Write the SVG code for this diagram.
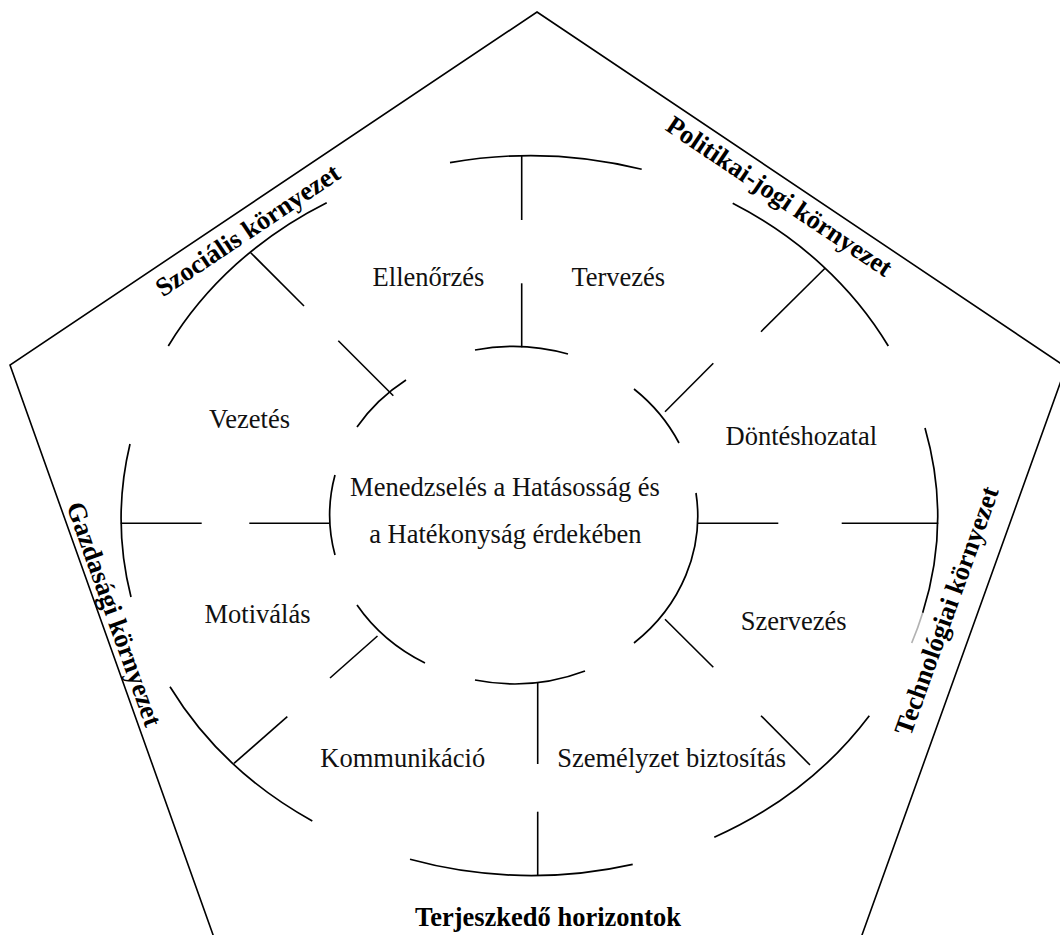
<svg xmlns="http://www.w3.org/2000/svg" width="1060" height="935" viewBox="0 0 1060 935">
  <style>
    .edge { fill: none; stroke: #000; stroke-width: 1.6; }
    .ring { fill: none; stroke: #000; stroke-width: 1.7; }
    .spoke { stroke: #000; stroke-width: 1.6; }
    .lbl { font-family: "Liberation Serif", "Times New Roman", serif; font-size: 26.5px; fill: #111; text-anchor: middle; }
    .env { font-family: "Liberation Serif", "Times New Roman", serif; font-size: 26.5px; font-weight: bold; fill: #000; text-anchor: middle; }
  </style>

  <rect width="1060" height="935" fill="#fff"/>

  <!-- environment boundary (pentagon, bottom edge lies below the page) -->
  <g id="environment">
    <polygon class="edge" points="537,12 1066,367 853,960 222,960 10,365"/>
  </g>

  <!-- outer ring: expanding horizons -->
  <g id="outer-ring">
    <path class="ring" d="M450,162.7 A408.8 360.5 0 0 1 641.7,169.3"/>
    <path class="ring" d="M732.7,203.3 A408.8 360.5 0 0 1 888.3,346"/>
    <path class="ring" d="M925,428 A408.8 360.5 0 0 1 922.7,612.7"/>
    <path class="ring" d="M922.7,612.7 A408.8 360.5 0 0 1 911.7,643" stroke-opacity="0.3"/>
    <path class="ring" d="M869.3,715.7 A408.8 360.5 0 0 1 714.3,837.3"/>
    <path class="ring" d="M632.7,864.3 A408.8 360.5 0 0 1 410,859.3"/>
    <path class="ring" d="M312.3,821 A408.8 360.5 0 0 1 170,686.7"/>
    <path class="ring" d="M131,597 A408.8 360.5 0 0 1 130,444"/>
    <path class="ring" d="M168.3,346 A408.8 360.5 0 0 1 326.7,202.7"/>
  </g>

  <!-- inner ring: core management -->
  <g id="inner-ring">
    <path class="ring" d="M475,350 A184.5 168 0 0 1 568,354"/>
    <path class="ring" d="M634,389 A184.5 168 0 0 1 679,443"/>
    <path class="ring" d="M696,493 A184.5 168 0 0 1 634,643"/>
    <path class="ring" d="M585,671 A184.5 168 0 0 1 475,680"/>
    <path class="ring" d="M425,663 A184.5 168 0 0 1 357,605"/>
    <path class="ring" d="M335,555 A184.5 168 0 0 1 335,475"/>
    <path class="ring" d="M357,427 A184.5 168 0 0 1 406,380"/>
  </g>

  <!-- spokes between the rings -->
  <g id="connectors">
    <line class="spoke" x1="521.7" y1="155" x2="521.7" y2="220"/>
    <line class="spoke" x1="521.7" y1="283.3" x2="521.7" y2="347.3"/>
    <line class="spoke" x1="825" y1="268.3" x2="761" y2="331.7"/>
    <line class="spoke" x1="713.3" y1="363.3" x2="665" y2="411.7"/>
    <line class="spoke" x1="698" y1="523.3" x2="778.3" y2="523.3"/>
    <line class="spoke" x1="841.7" y1="523.3" x2="938.3" y2="523.3"/>
    <line class="spoke" x1="665" y1="619.3" x2="713.3" y2="667.3"/>
    <line class="spoke" x1="761" y1="715.7" x2="810" y2="765"/>
    <line class="spoke" x1="537.7" y1="682.7" x2="537.7" y2="764"/>
    <line class="spoke" x1="537.7" y1="811.7" x2="537.7" y2="876"/>
    <line class="spoke" x1="377.5" y1="636" x2="330" y2="678"/>
    <line class="spoke" x1="287.3" y1="716.7" x2="234" y2="763.3"/>
    <line class="spoke" x1="120.7" y1="523.3" x2="201.7" y2="523.3"/>
    <line class="spoke" x1="249.3" y1="523.3" x2="329.3" y2="523.3"/>
    <line class="spoke" x1="250.7" y1="252.7" x2="304" y2="306"/>
    <line class="spoke" x1="338.3" y1="340.7" x2="393.3" y2="395.7"/>
  </g>

  <!-- centre -->
  <g id="core">
    <text class="lbl" x="505" y="496">Menedzselés a Hatásosság és</text>
    <text class="lbl" x="505.3" y="543">a Hatékonyság érdekében</text>
  </g>

  <!-- management functions -->
  <g id="ellenorzes"><text class="lbl" x="428.5" y="286">Ellenőrzés</text></g>
  <g id="tervezes"><text class="lbl" x="618.3" y="286">Tervezés</text></g>
  <g id="vezetes"><text class="lbl" x="249.5" y="428">Vezetés</text></g>
  <g id="donteshozatal"><text class="lbl" x="801.3" y="445">Döntéshozatal</text></g>
  <g id="motivalas"><text class="lbl" x="257.5" y="623">Motiválás</text></g>
  <g id="szervezes"><text class="lbl" x="793.7" y="630">Szervezés</text></g>
  <g id="kommunikacio"><text class="lbl" x="402.8" y="766.7">Kommunikáció</text></g>
  <g id="szemelyzet"><text class="lbl" x="671.7" y="766.7">Személyzet biztosítás</text></g>

  <!-- environments -->
  <g id="szocialis"><text class="env" transform="translate(252.5,237.5) rotate(-33.85)">Szociális környezet</text></g>
  <g id="politikai"><text class="env" transform="translate(774.5,203.5) rotate(33.85)">Politikai-jogi környezet</text></g>
  <g id="gazdasagi"><text class="env" transform="translate(106,617) rotate(70.33)">Gazdasági környezet</text></g>
  <g id="technologiai"><text class="env" transform="translate(954.8,613.7) rotate(-70.22)">Technológiai környezet</text></g>
  <g id="horizontok"><text class="env" x="548" y="926">Terjeszkedő horizontok</text></g>
</svg>
